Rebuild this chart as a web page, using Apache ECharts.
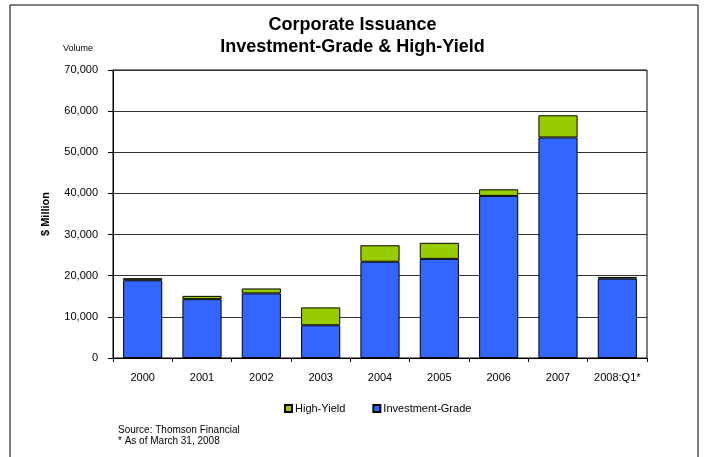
<!DOCTYPE html>
<html>
<head>
<meta charset="utf-8">
<script src="https://cdn.jsdelivr.net/npm/echarts@6/dist/echarts.min.js"></script>
<style>
  html, body { margin: 0; padding: 0; background: #fff; }
  #chart { width: 705px; height: 457px; }
</style>
</head>
<body>
<div id="chart"></div>
<script>
// Corporate bond issuance by year, $ million
const years = ['2000', '2001', '2002', '2003', '2004', '2005', '2006', '2007', '2008:Q1*'];
const investmentGrade = [18900, 14300, 15700, 7950, 23400, 24100, 39400, 53600, 19300];
const highYield = [500, 800, 1200, 4350, 4000, 3900, 1600, 5400, 400];
const yTicks = { min: 0, max: 70000, step: 10000 };

const FONT = 'Arial, "Liberation Sans", sans-serif';
const chart = echarts.init(document.getElementById('chart'));

chart.setOption({
  animation: false,
  backgroundColor: '#ffffff',
  title: {
    text: 'Corporate Issuance\nInvestment-Grade & High-Yield',
    left: 'center',
    top: 9,
    textStyle: { fontFamily: FONT, fontSize: 18, fontWeight: 'bold', color: '#000', lineHeight: 22 }
  },
  graphic: [
    {
      type: 'rect',
      shape: { x: 10, y: 5, width: 688, height: 470 },
      style: { fill: 'none', stroke: '#000', lineWidth: 1 },
      silent: true
    },
    {
      type: 'text', left: 63, top: 44,
      style: { text: 'Volume', font: '9px ' + FONT, fill: '#000' }
    },
    {
      type: 'text', left: 118, top: 425,
      style: { text: 'Source: Thomson Financial\n* As of March 31, 2008', font: '10px ' + FONT, fill: '#000', lineHeight: 11 }
    }
  ],
  legend: {
    data: ['High-Yield', 'Investment-Grade'],
    top: 398,
    left: 279,
    icon: 'rect',
    itemWidth: 7,
    itemHeight: 7,
    itemGap: 27,
    textStyle: { fontFamily: FONT, fontSize: 11, color: '#000', padding: [0, 0, 0, -2] }
  },
  grid: {
    left: 113, right: 58, top: 70, bottom: 99,
    show: true, borderColor: '#000', borderWidth: 1
  },
  xAxis: {
    type: 'category',
    data: years,
    axisLine: { lineStyle: { color: '#000', width: 1 } },
    axisTick: { show: true, length: 4, lineStyle: { color: '#000' } },
    axisLabel: { fontFamily: FONT, fontSize: 11, color: '#000', margin: 14, interval: 0 },
    splitLine: { show: false }
  },
  yAxis: {
    type: 'value',
    min: yTicks.min,
    max: yTicks.max,
    interval: yTicks.step,
    name: '$ Million',
    nameLocation: 'middle',
    nameGap: 62,
    nameRotate: 90,
    nameTextStyle: { fontFamily: FONT, fontSize: 11, fontWeight: 'bold', color: '#000' },
    axisLine: { show: true, lineStyle: { color: '#000', width: 1 } },
    axisTick: { show: true, length: 5, lineStyle: { color: '#000' } },
    axisLabel: {
      fontFamily: FONT, fontSize: 11, color: '#000', margin: 15,
      formatter: v => v.toLocaleString('en-US')
    },
    splitLine: { show: true, lineStyle: { color: '#333', width: 1 } }
  },
  series: [
    {
      name: 'Investment-Grade',
      type: 'bar',
      stack: 'total',
      data: investmentGrade,
      barCategoryGap: '34%',
      itemStyle: { color: '#3366FF', borderColor: '#000', borderWidth: 1 }
    },
    {
      name: 'High-Yield',
      type: 'bar',
      stack: 'total',
      data: highYield,
      itemStyle: { color: '#99CC00', borderColor: '#000', borderWidth: 1 }
    }
  ]
});
</script>
</body>
</html>
